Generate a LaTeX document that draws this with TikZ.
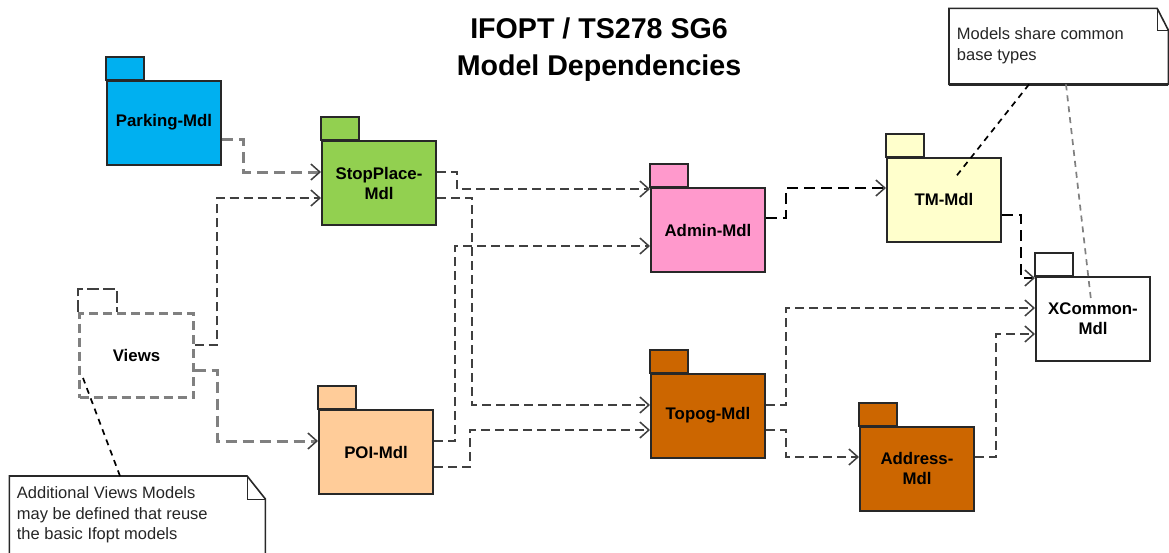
\documentclass[tikz,border=0pt]{standalone}
\usepackage{fontspec}
\setmainfont{Liberation Sans}
\usetikzlibrary{arrows.meta,calc}
\definecolor{parkc}{RGB}{0,176,240}
\definecolor{stopc}{RGB}{146,208,80}
\definecolor{adminc}{RGB}{255,153,204}
\definecolor{poic}{RGB}{255,204,153}
\definecolor{topoc}{RGB}{204,102,0}
\definecolor{tmc}{RGB}{255,255,204}
\definecolor{edgec}{RGB}{40,40,40}
\definecolor{darkdash}{RGB}{64,64,64}
\definecolor{graydash}{RGB}{128,128,128}
\newcommand\pkgtab[2]{\draw[tabst,fill=#2] (#1.north west) rectangle ++(38,-23);}
\begin{document}
\begin{tikzpicture}[x=1pt,y=-1pt,
  pkg/.style={draw=edgec, line width=2pt, minimum width=114pt, minimum height=84pt,
    inner sep=0pt, align=center, font=\bfseries\fontsize{16.8}{20}\selectfont},
  tabst/.style={draw=edgec, line width=2pt},
  dep/.style={-{Straight Barb[length=9pt,width=16pt,line width=1.5pt,color=darkdash]}},
  darkc/.style={dep, draw=darkdash, line width=2.1pt, dash pattern=on 9pt off 5pt},
  grayc/.style={dep, draw=graydash, line width=3pt, dash pattern=on 11pt off 6pt},
  blkc/.style={dep, draw=black, line width=2.5pt, dash pattern=on 11pt off 6pt},
  notest/.style={draw=edgec, line width=1.6pt, fill=white},
  notetext/.style={anchor=north west, inner sep=0pt, align=left,
    font=\fontsize{16.5}{20.5}\selectfont, text=black!85},
  notelink/.style={draw=black, line width=1.7pt, dash pattern=on 6pt off 5pt},
  notelinkg/.style={draw=graydash, line width=1.7pt, dash pattern=on 6pt off 5pt}]
\useasboundingbox (0,0) rectangle (1169,552);
\fill[white] (0,0) rectangle (1169,552);

% title
\node[anchor=north, inner sep=0pt, align=center,
  font=\bfseries\fontsize{28.6}{37}\selectfont] (title) at (599,17.5)
  {IFOPT / TS278 SG6\\Model Dependencies};

% packages
\node[pkg, fill=parkc] (park) at (164,122.5) {Parking-Mdl};
\pkgtab{park}{parkc}
\node[pkg, fill=stopc] (stop) at (379,183) {StopPlace-\\Mdl};
\pkgtab{stop}{stopc}
\node[pkg, fill=poic] (poi) at (376,452) {POI-Mdl};
\pkgtab{poi}{poic}
\node[pkg, fill=adminc] (admin) at (708,230) {Admin-Mdl};
\pkgtab{admin}{adminc}
\node[pkg, fill=topoc] (topog) at (708,415.5) {Topog-Mdl};
\pkgtab{topog}{topoc}
\node[pkg, fill=tmc] (tm) at (944,199.5) {TM-Mdl};
\pkgtab{tm}{tmc}
\node[pkg, fill=white] (xcom) at (1093,319) {XCommon-\\Mdl};
\pkgtab{xcom}{white}
\node[pkg, fill=topoc] (addr) at (917,468.5) {Address-\\Mdl};
\pkgtab{addr}{topoc}

% Views (dashed package)
\node[pkg, fill=white, draw=graydash, line width=2.4pt, dash pattern=on 9pt off 5pt]
  (views) at (136.5,355.5) {Views};
\draw[draw=darkdash, line width=1.8pt, dash pattern=on 12pt off 4pt]
  (views.north west) -- ++(0,-23) -- ++(39,0) -- ++(0,23);

% dependencies
\draw[grayc] (park.east |- 0,139) -- (243,139) |- (stop.west |- 0,172);
\draw[darkc] (views.east |- 0,345) -- (217,345) |- (stop.west |- 0,198);
\draw[grayc] (views.east |- 0,370) -- (217,370) |- (poi.west |- 0,441);
\draw[darkc] (stop.east |- 0,172) -- (457,172) |- (admin.west |- 0,189);
\draw[darkc] (stop.east |- 0,198) -- (472,198) |- (topog.west |- 0,405);
\draw[darkc] (poi.east |- 0,441) -- (455,441) |- (admin.west |- 0,246);
\draw[darkc] (poi.east |- 0,467) -- (470,467) |- (topog.west |- 0,430);
\draw[blkc] (admin.east |- 0,218) -- (786,218) |- (tm.west |- 0,188);
\draw[blkc] (tm.east |- 0,215) -- (1021,215) |- (xcom.west |- 0,278);
\draw[darkc] (topog.east |- 0,405) -- (786,405) |- (xcom.west |- 0,308);
\draw[darkc] (topog.east |- 0,430) -- (786,430) |- (addr.west |- 0,457);
\draw[darkc] (addr.east |- 0,457) -- (996,457) |- (xcom.west |- 0,334);

% notes
\begin{scope}
\clip (0,0) rectangle (1169,552);
\node[minimum width=255.7pt, minimum height=90pt, inner sep=0pt, anchor=north west]
  (note1) at (9.3,476) {};
\draw[notest] (note1.south west) -- (note1.north west) -- ([xshift=-18.3pt]note1.north east)
  -- ([yshift=-23pt]note1.north east) -- (note1.south east);
\draw[edgec, line width=1pt] ([xshift=-18.3pt]note1.north east) -- ([xshift=-18.3pt,yshift=-23pt]note1.north east)
  -- ([yshift=-23pt]note1.north east);
\node[notetext] (n1text) at (16.7,486.5)
  {Additional Views Models\\may be defined that reuse\\the basic Ifopt models};

\node[minimum width=219pt, minimum height=75.7pt, inner sep=0pt, anchor=north west]
  (note2) at (949,8.3) {};
\draw[notest] (note2.north west) -- ([xshift=-11.3pt]note2.north east)
  -- ([yshift=-22pt]note2.north east) -- (note2.south east) -- (note2.south west) -- cycle;
\draw[edgec, line width=2.8pt] (note2.south west) -- (note2.south east);
\draw[edgec, line width=1pt] ([xshift=-11.3pt]note2.north east) -- ([xshift=-11.3pt,yshift=-22pt]note2.north east)
  -- ([yshift=-22pt]note2.north east);
\node[notetext] (n2text) at (956.7,27.5) {Models share common\\base types};
\end{scope}

% note links
\coordinate (vnote) at (83,378);
\coordinate (tmnote) at (954,179);
\coordinate (xcnote) at (1091,300);
\draw[notelink] (note1.north -| 120,0) -- (vnote);
\draw[notelink] (note2.south -| 1029,0) -- (tmnote);
\draw[notelinkg] (note2.south -| 1066,0) -- (xcnote);
\end{tikzpicture}
\end{document}
